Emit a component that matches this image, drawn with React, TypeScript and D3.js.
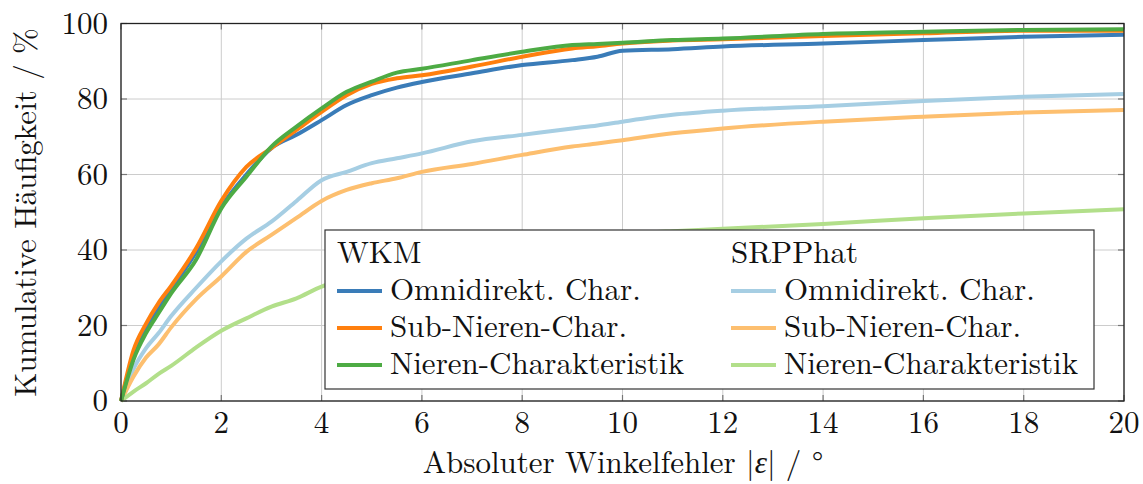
import React from "react";
import * as d3 from "d3";

const xValues = [0, 0.25, 0.5, 0.75, 1, 1.5, 2, 2.5, 3, 3.5, 4, 4.5, 5, 5.5, 6, 7, 8, 9, 9.5, 10, 11, 12, 14, 16, 18, 20];

const wkmOmni = [0, 12, 19, 24.5, 29.5, 39.5, 51.5, 60, 67, 70.5, 74.4, 78.4, 81, 83, 84.5, 86.8, 89, 90.3, 91.2, 92.8, 93.2, 93.9, 94.7, 95.6, 96.5, 97];
const wkmSub = [0, 13.5, 20.5, 26, 30.5, 40.5, 53, 62, 67, 71.8, 76.6, 81, 84, 85.5, 86.3, 88.6, 91.2, 93.4, 94, 94.7, 95.5, 95.8, 96.7, 97.4, 98.1, 98.1];
const wkmNieren = [0, 11, 18, 23.3, 28.5, 37.5, 51, 59.4, 67.4, 72.7, 77.5, 81.9, 84.6, 87, 88, 90.3, 92.5, 94.3, 94.6, 94.9, 95.6, 96, 97.2, 97.8, 98.3, 98.5];
const srpOmni = [0, 8.5, 14, 18, 22.5, 30, 37, 43, 47.5, 53, 58.5, 60.7, 63, 64.3, 65.6, 68.8, 70.5, 72.2, 73, 74, 75.8, 76.9, 78.1, 79.5, 80.6, 81.3];
const srpSub = [0, 6.5, 11.5, 15, 19.5, 27, 33, 39.5, 44, 48.5, 53, 55.9, 57.7, 59, 60.7, 62.8, 65.2, 67.4, 68.2, 69.1, 70.9, 72.2, 74, 75.3, 76.4, 77.1];
const srpNieren = [0, 2.5, 4.7, 7.2, 9.3, 14.2, 18.6, 21.9, 25, 27.2, 30.3, 32.3, 34, 35.6, 37, 39.5, 41.5, 43, 43.6, 44.2, 45, 45.6, 46.9, 48.4, 49.7, 50.8];

const seriesLabels = ["Omnidirekt. Char.", "Sub-Nieren-Char.", "Nieren-Charakteristik"];
const groupTitles = ["WKM", "SRPPhat"];
const xTicks = [0, 2, 4, 6, 8, 10, 12, 14, 16, 18, 20];
const yTicks = [0, 20, 40, 60, 80, 100];
const xTitleA = "Absoluter Winkelfehler |";
const xTitleEps = "\u03B5";
const xTitleB = "| / \u00B0";
const yTitle = "Kumulative H\u00E4ufigkeit  /  %";

const wkmColors = ["#3a7cb8", "#ff7f0e", "#4dab44"];
const srpColors = ["#a6cee3", "#fdbf6f", "#b2df8a"];

const txt: React.CSSProperties = { fontFamily: '"Latin Modern Roman"', fontSize: "31px" };

export default function App() {
  const W = 1143, H = 484;
  const left = 121, right = 1124, top = 23.5, bottom = 401;
  const x = d3.scaleLinear().domain([0, 20]).range([left, right]);
  const y = d3.scaleLinear().domain([0, 100]).range([bottom, top]);
  const line = d3.line<number>().x((_, i) => x(xValues[i])).y((d) => y(d)).curve(d3.curveMonotoneX);

  const srp = [srpOmni, srpSub, srpNieren];
  const wkm = [wkmOmni, wkmSub, wkmNieren];

  const legendCols = [
    { title: groupTitles[0], colors: wkmColors, x0: 337 },
    { title: groupTitles[1], colors: srpColors, x0: 731 },
  ];
  const rowY = [291, 328, 365];

  return (
    <svg width={W} height={H} style={{ position: "absolute", left: 0, top: 0, background: "#fff" }}>
      <rect x={0} y={0} width={W} height={H} fill="#fff" />
      {xTicks.map((t) => (
        <line key={"gx" + t} x1={x(t)} x2={x(t)} y1={top} y2={bottom} stroke="#cccccc" strokeWidth={1} />
      ))}
      {yTicks.map((t) => (
        <line key={"gy" + t} x1={left} x2={right} y1={y(t)} y2={y(t)} stroke="#cccccc" strokeWidth={1} />
      ))}
      {xTicks.map((t) => (
        <g key={"tx" + t}>
          <line x1={x(t)} x2={x(t)} y1={bottom} y2={bottom - 6} stroke="#777" strokeWidth={1.2} />
          <line x1={x(t)} x2={x(t)} y1={top} y2={top + 6} stroke="#777" strokeWidth={1.2} />
        </g>
      ))}
      {yTicks.map((t) => (
        <g key={"ty" + t}>
          <line x1={left} x2={left + 6} y1={y(t)} y2={y(t)} stroke="#777" strokeWidth={1.2} />
          <line x1={right} x2={right - 6} y1={y(t)} y2={y(t)} stroke="#777" strokeWidth={1.2} />
        </g>
      ))}
      {srp.map((s, i) => (
        <path key={"s" + i} d={line(s) || ""} fill="none" stroke={srpColors[i]} strokeWidth={4} strokeLinejoin="round" />
      ))}
      {wkm.map((s, i) => (
        <path key={"w" + i} d={line(s) || ""} fill="none" stroke={wkmColors[i]} strokeWidth={4} strokeLinejoin="round" />
      ))}
      <rect x={left} y={top} width={right - left} height={bottom - top} fill="none" stroke="#222" strokeWidth={1.3} />
      {xTicks.map((t) => (
        <text key={"lx" + t} x={x(t)} y={433} textAnchor="middle" style={txt} fill="#111">{t}</text>
      ))}
      {yTicks.map((t) => (
        <text key={"ly" + t} x={108} y={y(t) + 10} textAnchor="end" style={txt} fill="#111">{t}</text>
      ))}
      <text x={623} y={473} textAnchor="middle" style={txt} fill="#111">
        {xTitleA}<tspan fontStyle="italic">{xTitleEps}</tspan>{xTitleB}
      </text>
      <text transform="translate(36,212.5) rotate(-90)" x={0} y={0} textAnchor="middle" style={txt} fill="#111">{yTitle}</text>
      <rect x={325} y={230} width={1094 - 325} height={389 - 230} fill="#fff" stroke="#333" strokeWidth={1.2} />
      {legendCols.map((c, ci) => (
        <g key={"lc" + ci}>
          <text x={c.x0} y={262.5} style={txt} fill="#111">{c.title}</text>
          {seriesLabels.map((lab, ri) => (
            <g key={"lr" + ri}>
              <line x1={c.x0} x2={c.x0 + 45} y1={rowY[ri]} y2={rowY[ri]} stroke={c.colors[ri]} strokeWidth={4} />
              <text x={c.x0 + 53} y={rowY[ri] + 9} style={txt} fill="#111">{lab}</text>
            </g>
          ))}
        </g>
      ))}
    </svg>
  );
}
